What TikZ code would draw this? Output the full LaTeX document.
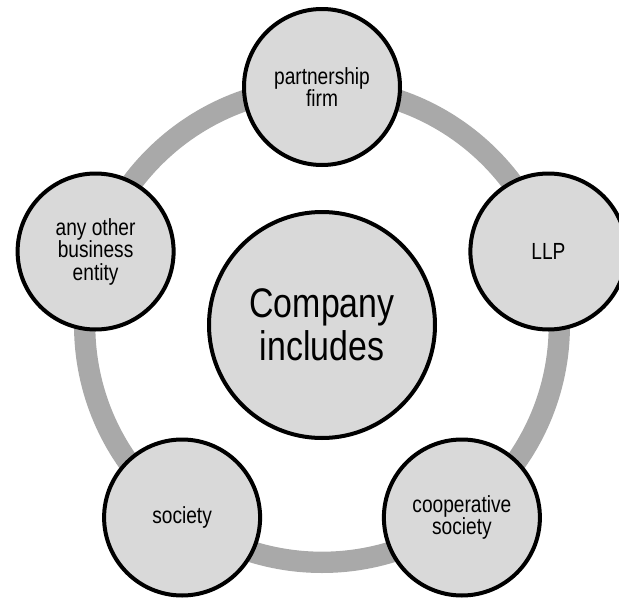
\documentclass[tikz,border=0pt]{standalone}
\usepackage{fontspec}
\setmainfont{Liberation Sans}[FakeStretch=0.82]
\definecolor{ringgray}{HTML}{A9A9A9}
\definecolor{fillgray}{HTML}{D9D9D9}
\begin{document}
\begin{tikzpicture}[x=0.75pt,y=-0.75pt,
  outer/.style={circle,draw=black,line width=3pt,fill=fillgray,minimum size=117pt,inner sep=0pt,align=center,
    font=\fontsize{17.5}{16.9}\selectfont},
  hub/.style={circle,draw=black,line width=3pt,fill=fillgray,minimum size=169.5pt,inner sep=0pt,align=center,
    font=\fontsize{31}{32.5}\selectfont},
  ring/.style={draw=ringgray,line width=16pt}]
\useasboundingbox (0,0) rectangle (619,600);
\coordinate (o) at (322,325);
\draw[ring] (o) circle[radius=178pt];
\node[hub] (c) at (o) {Company\\includes};
\node[outer] (n1) at (322,87) {partnership\\firm};
\node[outer] (n2) at (548.4,251.5) {LLP};
\node[outer] (n3) at (461.9,517.5) {cooperative\\society};
\node[outer] (n4) at (182.1,517.5) {society};
\node[outer] (n5) at (95.6,251.5) {any other\\business\\entity};
\end{tikzpicture}
\end{document}
